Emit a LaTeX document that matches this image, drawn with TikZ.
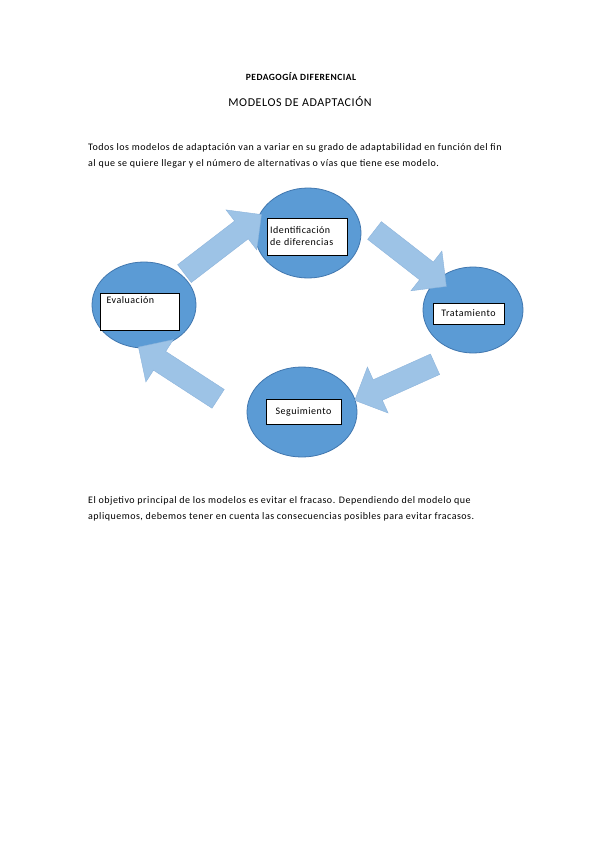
\documentclass[tikz,border=0pt]{standalone}
\usepackage{fontspec}
\setmainfont{Carlito}[LetterSpace=5]
\usetikzlibrary{shapes.arrows,shapes.geometric}
\definecolor{circ}{RGB}{91,155,213}
\definecolor{circd}{RGB}{65,119,175}
\definecolor{arr}{RGB}{157,195,230}
\definecolor{arrd}{RGB}{140,180,220}
\tikzset{
  x=1pt,y=-1pt,
  stage/.style={ellipse,fill=circ,draw=circd,line width=0.8pt},
  lbl/.style={draw=black,fill=white,line width=0.6pt,inner sep=2pt,font=\fontsize{10}{12}\selectfont,align=left},
  blk/.style={single arrow,fill=arr,draw=arrd,line width=0.4pt,minimum width=50pt,single arrow head extend=14pt,inner sep=0pt,text width=0pt,text height=22pt,text depth=0pt,single arrow head indent=0pt},
  body/.style={anchor=west,inner sep=0pt,font=\fontsize{10}{12}\selectfont},
}
\begin{document}
\begin{tikzpicture}
\useasboundingbox (0,0) rectangle (600,848);
\fill[white] (0,0) rectangle (600,848);
\node[font=\bfseries\fontsize{9.5}{11}\selectfont] (t1) at (301,77) {PEDAGOGÍA DIFERENCIAL};
\node[font=\fontsize{12}{14}\selectfont] (t2) at (300,102) {MODELOS DE ADAPTACIÓN};
\node[body] (p1) at (88,148) {Todos los modelos de adaptación van a variar en su grado de adaptabilidad en función del fin};
\node[body] (p2) at (88,164) {al que se quiere llegar y el número de alternativas o vías que tiene ese modelo.};
\node[body] (q1) at (88,501) {El objetivo principal de los modelos es evitar el fracaso. Dependiendo del modelo que};
\node[body] (q2) at (88,517) {apliquemos, debemos tener en cuenta las consecuencias posibles para evitar fracasos.};

\node[stage,minimum width=106pt,minimum height=90pt] (ci) at (308,233) {};
\node[stage,minimum width=104pt,minimum height=86pt] (ce) at (144,305) {};
\node[stage,minimum width=100pt,minimum height=86pt] (ct) at (473,310) {};
\node[stage,minimum width=110pt,minimum height=90pt] (cs) at (302,412) {};

\node[blk,minimum height=97pt,rotate=37.5] (a1) at (218.5,247.5) {};
\node[blk,minimum height=91pt,rotate=-37.9] (a2) at (406,255) {};
\node[blk,minimum height=88pt,rotate=204.2] (a3) at (400,380) {};
\node[blk,minimum height=95pt,rotate=147] (a4) at (183,376) {};

\node[lbl,minimum width=80pt,minimum height=37pt,text width=74pt] (li) at (307,236.5) {Identificación\\de diferencias};
\draw[line width=0.6pt,fill=white] (100,293) rectangle (179,330);
\node[anchor=north west,font=\fontsize{10}{12}\selectfont] (le) at (103,293) {Evaluación};
\node[lbl,minimum width=71pt,minimum height=21pt] (lt) at (468.5,313.5) {Tratamiento};
\node[lbl,minimum width=75pt,minimum height=25pt] (ls) at (303.5,411.5) {Seguimiento};
\end{tikzpicture}
\end{document}
